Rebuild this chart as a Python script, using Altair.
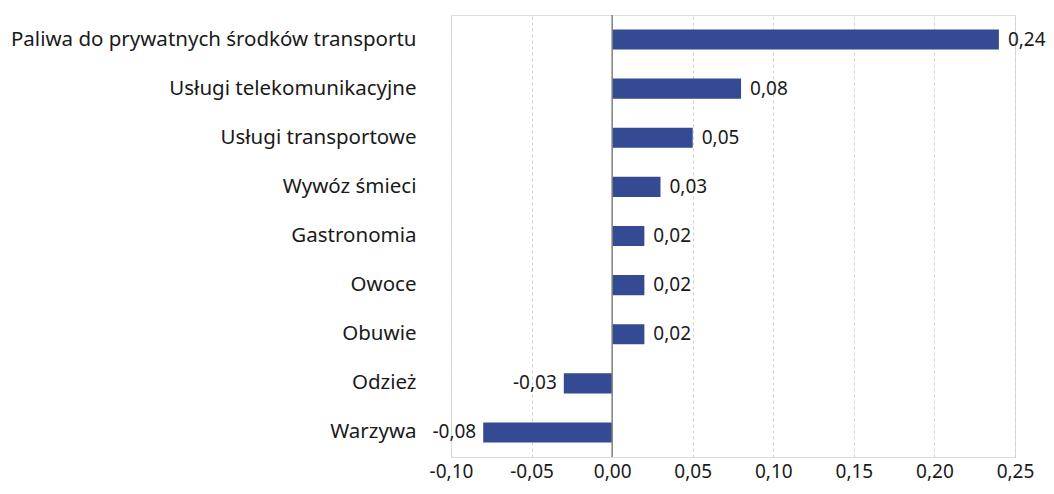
import altair as alt
import pandas as pd

categories = [
    "Paliwa do prywatnych środków transportu",
    "Usługi telekomunikacyjne",
    "Usługi transportowe",
    "Wywóz śmieci",
    "Gastronomia",
    "Owoce",
    "Obuwie",
    "Odzież",
    "Warzywa",
]
values = [0.24, 0.08, 0.05, 0.03, 0.02, 0.02, 0.02, -0.03, -0.08]
x_ticks = [-0.10, -0.05, 0.0, 0.05, 0.10, 0.15, 0.20, 0.25]

FONT = "Noto Sans"
BAR = "#344a92"
TXT = "#1a1a1a"

df = pd.DataFrame({"kategoria": categories, "wartosc": values})

label_calc = "(datum.wartosc < 0 ? '-' : '') + replace(format(abs(datum.wartosc), '.2f'), '.', ',')"

y_enc = alt.Y(
    "kategoria:N",
    sort=categories,
    scale=alt.Scale(paddingInner=0.59, paddingOuter=0.295),
    axis=alt.Axis(
        title=None, domain=False, ticks=False, grid=False,
        labelPadding=35, labelFontSize=20.5, labelColor=TXT, labelFont=FONT,
        labelLimit=500,
    ),
)
x_enc = alt.X(
    "wartosc:Q",
    scale=alt.Scale(domain=[-0.10, 0.25], nice=False, zero=False),
    axis=alt.Axis(
        values=x_ticks, title=None, domain=False, ticks=False, grid=True,
        gridDash=[3, 3], gridColor="#d0d0d0", gridWidth=1,
        labelExpr="(datum.value < 0 ? '-' : '') + replace(format(abs(datum.value), '.2f'), '.', ',')",
        labelPadding=5, labelFontSize=19, labelColor=TXT, labelFont=FONT,
        labelFlush=False,
    ),
)

base = alt.Chart(df)

bars = base.mark_bar(color=BAR).encode(x=x_enc, y=y_enc)

zero_rule = alt.Chart(pd.DataFrame({"z": [0.0]})).mark_rule(
    color="#808080", strokeWidth=1.5
).encode(x="z:Q")

pos_text = base.transform_filter("datum.wartosc >= 0").transform_calculate(
    lab=label_calc
).mark_text(align="left", baseline="middle", dx=9, fontSize=19, font=FONT, color=TXT).encode(
    x="wartosc:Q", y=alt.Y("kategoria:N", sort=categories), text="lab:N"
)

neg_text = base.transform_filter("datum.wartosc < 0").transform_calculate(
    lab=label_calc
).mark_text(align="right", baseline="middle", dx=-7, fontSize=19, font=FONT, color=TXT).encode(
    x="wartosc:Q", y=alt.Y("kategoria:N", sort=categories), text="lab:N"
)

chart = alt.layer(bars, zero_rule, pos_text, neg_text).properties(
    width=564,
    height=442,
    autosize=alt.AutoSizeParams(type="none"),
    padding={"left": 443, "top": 7, "right": 31, "bottom": 29},
).configure_view(stroke=None).configure(background="white")

chart.save("out.html", embed_options={"renderer": "svg", "actions": False})
